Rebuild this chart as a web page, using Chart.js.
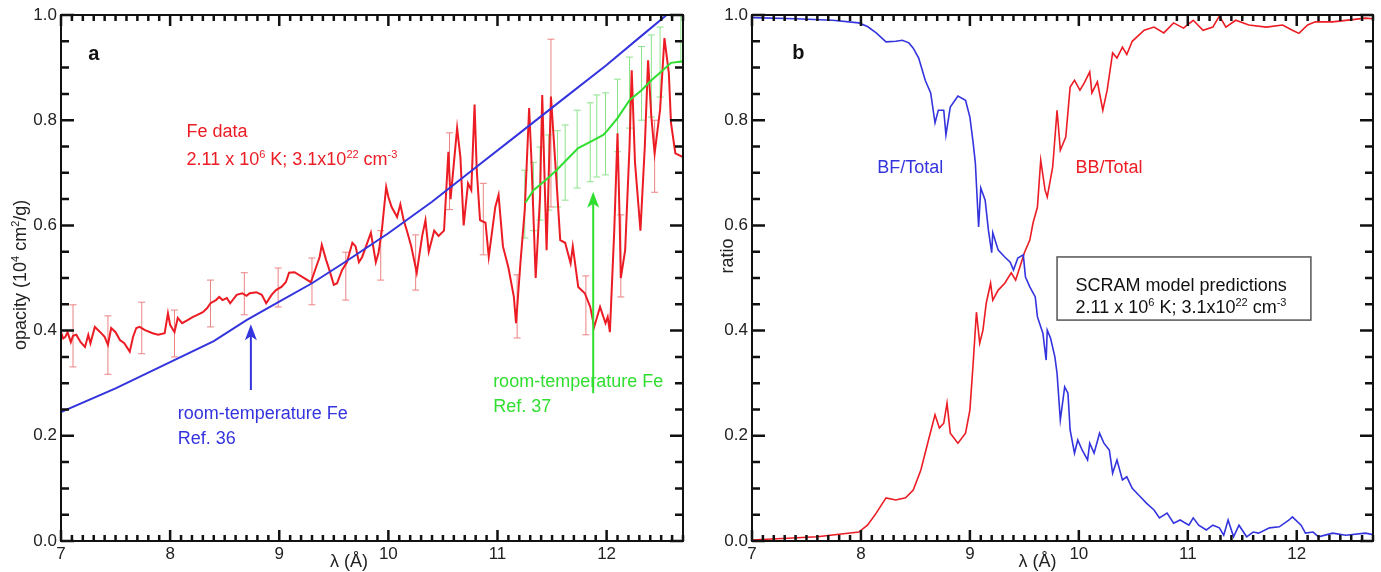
<!DOCTYPE html>
<html>
<head>
<meta charset="utf-8">
<script src="https://cdn.jsdelivr.net/npm/chart.js@4.4.1/dist/chart.umd.min.js"></script>
<style>
  body { margin: 0; background: #fff; width: 1381px; height: 572px; overflow: hidden; position: relative; }
  .panel { position: absolute; top: 0; height: 572px; }
  #wrapA { left: 0; width: 690px; }
  #wrapB { left: 690px; width: 691px; }
</style>
</head>
<body>
<div class="panel" id="wrapA"><canvas id="chartA"></canvas></div>
<div class="panel" id="wrapB"><canvas id="chartB"></canvas></div>
<script>
// axis ticks
const xTicks = [7, 8, 9, 10, 11, 12];
const xTickLabels = ['7', '8', '9', '10', '11', '12'];
const yTicks = [0, 0.2, 0.4, 0.6, 0.8, 1.0];
const yTickLabels = ['0.0', '0.2', '0.4', '0.6', '0.8', '1.0'];

// panel a: measured Fe opacity
const feLambda = [7.00, 7.02, 7.04, 7.06, 7.09, 7.11, 7.14, 7.18, 7.22, 7.25, 7.27, 7.31, 7.36, 7.40, 7.43, 7.46, 7.50, 7.54, 7.58, 7.63,
  7.66, 7.69, 7.72, 7.77, 7.84, 7.89, 7.95, 7.98, 8.00, 8.04, 8.07, 8.11, 8.16, 8.21, 8.25, 8.30, 8.34, 8.37, 8.42, 8.45,
  8.48, 8.52, 8.55, 8.61, 8.66, 8.70, 8.73, 8.79, 8.84, 8.88, 8.93, 8.97, 9.02, 9.06, 9.09, 9.14, 9.29, 9.32, 9.37, 9.39,
  9.43, 9.46, 9.50, 9.53, 9.575, 9.62, 9.67, 9.70, 9.73, 9.76, 9.80, 9.84, 9.885, 9.91, 9.94, 9.98, 10.00, 10.03, 10.08, 10.11,
  10.14, 10.17, 10.21, 10.26, 10.31, 10.34, 10.37, 10.42, 10.46, 10.51, 10.55, 10.57, 10.63, 10.66, 10.69, 10.73, 10.76, 10.79, 10.81, 10.84,
  10.89, 10.92, 10.98, 11.01, 11.05, 11.10, 11.15, 11.17, 11.21, 11.25, 11.29, 11.31, 11.35, 11.39, 11.41, 11.45, 11.49, 11.54, 11.575, 11.62,
  11.67, 11.69, 11.74, 11.80, 11.85, 11.886, 11.94, 11.99, 12.01, 12.03, 12.07, 12.10, 12.12, 12.13, 12.17, 12.21, 12.23, 12.26, 12.31, 12.35,
  12.38, 12.41, 12.44, 12.49, 12.53, 12.57, 12.59, 12.63, 12.70];
const feOpacity = [0.397, 0.385, 0.388, 0.397, 0.378, 0.390, 0.392, 0.378, 0.369, 0.392, 0.376, 0.407, 0.397, 0.388, 0.373, 0.405, 0.397, 0.382, 0.376, 0.360,
  0.388, 0.405, 0.407, 0.401, 0.395, 0.392, 0.395, 0.433, 0.411, 0.397, 0.424, 0.414, 0.420, 0.426, 0.430, 0.435, 0.443, 0.452, 0.458, 0.464,
  0.458, 0.462, 0.452, 0.468, 0.471, 0.466, 0.471, 0.473, 0.468, 0.452, 0.468, 0.477, 0.483, 0.492, 0.510, 0.511, 0.492, 0.510, 0.540, 0.563,
  0.534, 0.515, 0.487, 0.490, 0.515, 0.530, 0.567, 0.560, 0.530, 0.540, 0.563, 0.586, 0.530, 0.548, 0.590, 0.673, 0.654, 0.635, 0.616, 0.640,
  0.610, 0.590, 0.560, 0.510, 0.580, 0.610, 0.550, 0.590, 0.580, 0.590, 0.740, 0.650, 0.785, 0.730, 0.600, 0.680, 0.667, 0.830, 0.705, 0.610,
  0.605, 0.540, 0.635, 0.658, 0.560, 0.520, 0.464, 0.414, 0.528, 0.630, 0.823, 0.730, 0.500, 0.654, 0.848, 0.553, 0.845, 0.686, 0.572, 0.567,
  0.528, 0.560, 0.483, 0.471, 0.445, 0.407, 0.445, 0.414, 0.426, 0.397, 0.590, 0.775, 0.605, 0.500, 0.553, 0.750, 0.895, 0.720, 0.590, 0.750,
  0.914, 0.806, 0.737, 0.820, 0.956, 0.890, 0.795, 0.737, 0.730];

const feErrLambda = [7.11, 7.43, 7.74, 8.04, 8.37, 8.68, 8.99, 9.30, 9.61, 9.93, 10.25, 10.56, 10.87, 11.18, 11.49, 11.81, 12.13, 12.44];
const feErrLow = [0.331, 0.317, 0.356, 0.350, 0.407, 0.430, 0.445, 0.449, 0.458, 0.496, 0.477, 0.630, 0.544, 0.386, 0.635, 0.392, 0.464, 0.663];
const feErrHigh = [0.449, 0.428, 0.454, 0.439, 0.496, 0.510, 0.519, 0.538, 0.549, 0.590, 0.582, 0.776, 0.680, 0.506, 0.954, 0.504, 0.620, 0.800];

// room-temperature Fe, Ref. 36
const ref36Lambda = [7.0, 7.5, 8.0, 8.4, 8.7, 9.0, 9.3, 9.6, 10.0, 10.4, 10.8, 11.2, 11.6, 12.0, 12.3, 12.55];
const ref36Opacity = [0.245, 0.290, 0.340, 0.380, 0.420, 0.455, 0.490, 0.530, 0.585, 0.645, 0.710, 0.775, 0.840, 0.905, 0.957, 1.0];

// room-temperature Fe, Ref. 37
const ref37Lambda = [11.255, 11.33, 11.44, 11.54, 11.65, 11.74, 11.85, 11.97, 12.01, 12.10, 12.21, 12.32, 12.41, 12.50, 12.59, 12.70];
const ref37Opacity = [0.643, 0.667, 0.686, 0.705, 0.728, 0.747, 0.759, 0.772, 0.781, 0.804, 0.838, 0.857, 0.876, 0.892, 0.909, 0.912];
const ref37ErrLambda = [11.25, 11.33, 11.39, 11.47, 11.55, 11.62, 11.73, 11.85, 11.91, 11.99, 12.10, 12.21, 12.32, 12.41, 12.49, 12.68];
const ref37ErrLow = [0.576, 0.590, 0.610, 0.629, 0.635, 0.648, 0.671, 0.683, 0.692, 0.696, 0.740, 0.785, 0.800, 0.806, 0.844, 0.910];
const ref37ErrHigh = [0.705, 0.720, 0.749, 0.772, 0.780, 0.791, 0.819, 0.833, 0.848, 0.852, 0.878, 0.920, 0.940, 0.962, 0.977, 1.0];

// panel b: SCRAM bound-free and bound-bound fractions
const bfLambda = [7.00, 7.40, 7.74, 7.98, 8.06, 8.14, 8.23, 8.32, 8.38, 8.44, 8.48, 8.53, 8.59, 8.64, 8.68, 8.71, 8.76, 8.78, 8.82, 8.89,
  8.96, 9.00, 9.03, 9.05, 9.08, 9.10, 9.14, 9.17, 9.20, 9.21, 9.26, 9.32, 9.37, 9.40, 9.44, 9.49, 9.51, 9.55, 9.60, 9.62,
  9.67, 9.70, 9.71, 9.74, 9.78, 9.80, 9.83, 9.87, 9.90, 9.92, 9.96, 9.99, 10.03, 10.08, 10.10, 10.14, 10.19, 10.23, 10.28, 10.31,
  10.35, 10.40, 10.44, 10.49, 10.56, 10.62, 10.69, 10.74, 10.81, 10.87, 10.93, 11.01, 11.05, 11.10, 11.17, 11.23, 11.29, 11.33, 11.37, 11.42,
  11.47, 11.54, 11.60, 11.65, 11.75, 11.84, 11.93, 11.96, 12.04, 12.08, 12.15, 12.20, 12.33, 12.45, 12.63, 12.70];
const bfRatio = [0.995, 0.993, 0.990, 0.985, 0.978, 0.966, 0.949, 0.950, 0.952, 0.947, 0.937, 0.918, 0.876, 0.852, 0.795, 0.819, 0.819, 0.772, 0.825, 0.846,
  0.838, 0.806, 0.757, 0.719, 0.597, 0.671, 0.648, 0.591, 0.548, 0.586, 0.553, 0.540, 0.530, 0.515, 0.538, 0.544, 0.502, 0.483, 0.464, 0.426,
  0.395, 0.344, 0.401, 0.386, 0.350, 0.319, 0.230, 0.293, 0.281, 0.211, 0.167, 0.192, 0.173, 0.154, 0.186, 0.167, 0.205, 0.186, 0.173, 0.129,
  0.154, 0.116, 0.122, 0.100, 0.085, 0.072, 0.059, 0.044, 0.053, 0.034, 0.040, 0.030, 0.044, 0.030, 0.021, 0.030, 0.025, 0.011, 0.040, 0.008,
  0.030, 0.008, 0.017, 0.015, 0.025, 0.027, 0.040, 0.046, 0.030, 0.015, 0.017, 0.008, 0.015, 0.011, 0.015, 0.012];

const bbLambda = [7.00, 7.60, 7.98, 8.06, 8.14, 8.23, 8.32, 8.41, 8.48, 8.55, 8.62, 8.68, 8.72, 8.76, 8.79, 8.82, 8.89, 8.96, 9.00, 9.03,
  9.06, 9.09, 9.12, 9.15, 9.19, 9.21, 9.26, 9.32, 9.38, 9.42, 9.47, 9.50, 9.55, 9.58, 9.62, 9.65, 9.69, 9.71, 9.76, 9.80,
  9.83, 9.88, 9.92, 9.96, 10.01, 10.05, 10.10, 10.12, 10.17, 10.22, 10.26, 10.31, 10.35, 10.40, 10.44, 10.49, 10.60, 10.69, 10.78, 10.87,
  10.96, 11.05, 11.14, 11.23, 11.29, 11.35, 11.44, 11.56, 11.72, 11.87, 11.96, 12.02, 12.10, 12.17, 12.33, 12.63, 12.70];
const bbRatio = [0.002, 0.008, 0.017, 0.030, 0.053, 0.082, 0.078, 0.082, 0.097, 0.135, 0.192, 0.240, 0.215, 0.224, 0.262, 0.205, 0.186, 0.205, 0.249, 0.338,
  0.435, 0.376, 0.401, 0.452, 0.490, 0.458, 0.477, 0.490, 0.510, 0.496, 0.528, 0.548, 0.572, 0.605, 0.635, 0.724, 0.667, 0.654, 0.711, 0.819,
  0.743, 0.768, 0.863, 0.876, 0.857, 0.871, 0.892, 0.852, 0.873, 0.819, 0.857, 0.928, 0.918, 0.939, 0.925, 0.950, 0.971, 0.977, 0.966, 0.985,
  0.975, 0.990, 0.971, 0.977, 0.998, 0.977, 0.990, 0.981, 0.977, 0.981, 0.971, 0.965, 0.981, 0.987, 0.987, 0.994, 0.993];

const FONT = '"Liberation Sans", Arial, Helvetica, sans-serif';
const RED = 'rgb(236, 28, 36)';
const BLUE = 'rgb(52, 52, 222)';
const GREEN = 'rgb(48, 222, 48)';

const toXY = (xs, ys) => xs.map((x, i) => ({ x: x, y: ys[i] }));

// each bar is two points followed by a gap, caps are 'line' points
const toBars = (xs, lo, hi) => {
  const pts = [];
  xs.forEach((x, i) => { pts.push({ x: x, y: lo[i] }, { x: x, y: hi[i] }, { x: x, y: null }); });
  return pts;
};

// text with superscript runs: parts = [[text, isSup], ...]
const drawRich = (ctx, parts, x, y, size, color, bold, align) => {
  ctx.fillStyle = color;
  ctx.textBaseline = 'alphabetic';
  ctx.textAlign = 'left';
  const fontFor = sup => (bold ? 'bold ' : '') + (sup ? Math.round(size * 0.62) : size) + 'px ' + FONT;
  let total = 0;
  parts.forEach(([t, sup]) => { ctx.font = fontFor(sup); total += ctx.measureText(t).width; });
  let cx = align === 'center' ? x - total / 2 : x;
  parts.forEach(([t, sup]) => {
    ctx.font = fontFor(sup);
    ctx.fillText(t, cx, sup ? y - size * 0.4 : y);
    cx += ctx.measureText(t).width;
  });
};

// closed frame with inward ticks on all four sides
const frameTicks = {
  id: 'frameTicks',
  afterDatasetsDraw(chart) {
    const { ctx, chartArea: a, scales: { x, y } } = chart;
    ctx.save();
    ctx.strokeStyle = '#111';
    ctx.lineWidth = 2.5;
    ctx.beginPath();
    for (let i = 70; i <= 127; i++) {
      const px = x.getPixelForValue(i / 10);
      const len = i % 10 === 0 ? 11 : 6;
      ctx.moveTo(px, a.bottom); ctx.lineTo(px, a.bottom - len);
      ctx.moveTo(px, a.top); ctx.lineTo(px, a.top + len);
    }
    for (let i = 0; i <= 20; i++) {
      const py = y.getPixelForValue(i * 0.05);
      const len = i % 4 === 0 ? 13 : 8;
      ctx.moveTo(a.left, py); ctx.lineTo(a.left + len, py);
      ctx.moveTo(a.right, py); ctx.lineTo(a.right - len, py);
    }
    ctx.stroke();
    ctx.lineWidth = 2;
    ctx.strokeRect(a.left, a.top, a.right - a.left, a.bottom - a.top);
    ctx.restore();
  }
};

// labels, arrows and boxes placed in data coordinates
const decor = {
  id: 'decor',
  afterDatasetsDraw(chart, args, opts) {
    const { ctx, scales: { x, y } } = chart;
    ctx.save();
    (opts.boxes || []).forEach(b => {
      const l = x.getPixelForValue(b.x0), r = x.getPixelForValue(b.x1);
      const t = y.getPixelForValue(b.y1), bt = y.getPixelForValue(b.y0);
      ctx.fillStyle = '#fff';
      ctx.fillRect(l, t, r - l, bt - t);
      ctx.strokeStyle = '#555';
      ctx.lineWidth = 1.5;
      ctx.strokeRect(l, t, r - l, bt - t);
    });
    (opts.arrows || []).forEach(ar => {
      const px = x.getPixelForValue(ar.x);
      const y0 = y.getPixelForValue(ar.from), y1 = y.getPixelForValue(ar.to);
      ctx.strokeStyle = ar.color;
      ctx.fillStyle = ar.color;
      ctx.lineWidth = 2;
      ctx.beginPath();
      ctx.moveTo(px, y0); ctx.lineTo(px, y1 + 10);
      ctx.stroke();
      ctx.beginPath();
      ctx.moveTo(px, y1); ctx.lineTo(px - 6, y1 + 16); ctx.lineTo(px, y1 + 12); ctx.lineTo(px + 6, y1 + 16);
      ctx.closePath();
      ctx.fill();
    });
    (opts.labels || []).forEach(lb => {
      const px = x.getPixelForValue(lb.x), py = y.getPixelForValue(lb.y);
      if (lb.rotate) {
        ctx.save();
        ctx.translate(px, py);
        ctx.rotate(-Math.PI / 2);
        drawRich(ctx, lb.parts, 0, 0, lb.size, lb.color, lb.bold, 'center');
        ctx.restore();
      } else {
        drawRich(ctx, lb.parts, px, py, lb.size, lb.color, lb.bold, lb.align);
      }
    });
    ctx.restore();
  }
};

const makeScales = (yWidth) => ({
  x: {
    type: 'linear', min: 7, max: 12.7,
    grid: { display: false, drawTicks: false }, border: { display: false },
    afterBuildTicks: s => { s.ticks = xTicks.map(v => ({ value: v })); },
    afterFit: s => { s.height = 31; },
    ticks: { callback: (v, i) => xTickLabels[i], color: '#222', padding: 3, maxRotation: 0, font: { family: FONT, size: 17 } }
  },
  y: {
    type: 'linear', min: 0, max: 1,
    grid: { display: false, drawTicks: false }, border: { display: false },
    afterBuildTicks: s => { s.ticks = yTicks.map(v => ({ value: v })); },
    afterFit: s => { s.width = yWidth; },
    ticks: { callback: (v, i) => yTickLabels[i], color: '#222', padding: 4, font: { family: FONT, size: 17 } }
  }
});

const sup = t => [t, true];
const txt = t => [t, false];
const condition = [txt('2.11 x 10'), sup('6'), txt(' K; 3.1x10'), sup('22'), txt(' cm'), sup('-3')];

const errStyle = color => ({
  borderColor: color, borderWidth: 1,
  pointStyle: 'line', pointRadius: 3.5, pointBorderColor: color, pointBorderWidth: 1
});

new Chart(document.getElementById('chartA'), {
  type: 'line',
  data: {
    datasets: [
      { data: toXY(ref37Lambda, ref37Opacity), borderColor: GREEN, borderWidth: 2, pointRadius: 0, order: 0 },
      { data: toXY(ref36Lambda, ref36Opacity), borderColor: BLUE, borderWidth: 2, pointRadius: 0, order: 1 },
      { data: toXY(feLambda, feOpacity), borderColor: RED, borderWidth: 2, pointRadius: 0, order: 2 },
      { data: toBars(ref37ErrLambda, ref37ErrLow, ref37ErrHigh), ...errStyle('rgb(140, 228, 140)'), order: 3 },
      { data: toBars(feErrLambda, feErrLow, feErrHigh), ...errStyle('rgb(236, 130, 130)'), order: 4 }
    ]
  },
  options: {
    responsive: true, maintainAspectRatio: false, animation: false,
    layout: { padding: { left: 0, right: 7, top: 15, bottom: 0 } },
    elements: { line: { tension: 0 } },
    scales: makeScales(61),
    plugins: {
      legend: { display: false }, tooltip: { enabled: false },
      decor: {
        arrows: [
          { x: 8.74, from: 0.287, to: 0.412, color: BLUE },
          { x: 11.877, from: 0.281, to: 0.664, color: GREEN }
        ],
        labels: [
          { parts: [txt('a')], x: 7.25, y: 0.915, size: 20, color: '#111', bold: true },
          { parts: [txt('Fe data')], x: 8.15, y: 0.768, size: 18, color: RED },
          { parts: condition, x: 8.15, y: 0.715, size: 18, color: RED },
          { parts: [txt('room-temperature Fe')], x: 8.07, y: 0.232, size: 18, color: BLUE },
          { parts: [txt('Ref. 36')], x: 8.07, y: 0.184, size: 18, color: BLUE },
          { parts: [txt('room-temperature Fe')], x: 10.96, y: 0.293, size: 18, color: GREEN },
          { parts: [txt('Ref. 37')], x: 10.96, y: 0.245, size: 18, color: GREEN },
          { parts: [txt('λ (Å)')], x: 9.64, y: -0.05, size: 18, color: '#222', align: 'center' },
          { parts: [txt('opacity (10'), sup('4'), txt(' cm'), sup('2'), txt('/g)')], x: 6.68, y: 0.506, size: 18, color: '#222', rotate: true }
        ]
      }
    }
  },
  plugins: [frameTicks, decor]
});

new Chart(document.getElementById('chartB'), {
  type: 'line',
  data: {
    datasets: [
      { data: toXY(bfLambda, bfRatio), borderColor: BLUE, borderWidth: 1.6, pointRadius: 0, order: 0 },
      { data: toXY(bbLambda, bbRatio), borderColor: RED, borderWidth: 1.6, pointRadius: 0, order: 1 }
    ]
  },
  options: {
    responsive: true, maintainAspectRatio: false, animation: false,
    layout: { padding: { left: 0, right: 8, top: 15, bottom: 0 } },
    elements: { line: { tension: 0 } },
    scales: makeScales(62),
    plugins: {
      legend: { display: false }, tooltip: { enabled: false },
      decor: {
        boxes: [{ x0: 9.80, x1: 12.13, y0: 0.42, y1: 0.54 }],
        labels: [
          { parts: [txt('b')], x: 7.37, y: 0.916, size: 20, color: '#111', bold: true },
          { parts: [txt('BF/Total')], x: 8.15, y: 0.70, size: 18, color: BLUE },
          { parts: [txt('BB/Total')], x: 9.97, y: 0.70, size: 18, color: RED },
          { parts: [txt('SCRAM model predictions')], x: 9.97, y: 0.475, size: 18, color: '#111' },
          { parts: condition, x: 9.97, y: 0.433, size: 18, color: '#111' },
          { parts: [txt('λ (Å)')], x: 9.62, y: -0.05, size: 18, color: '#222', align: 'center' },
          { parts: [txt('ratio')], x: 6.83, y: 0.542, size: 18, color: '#222', rotate: true }
        ]
      }
    }
  },
  plugins: [frameTicks, decor]
});
</script>
</body>
</html>
